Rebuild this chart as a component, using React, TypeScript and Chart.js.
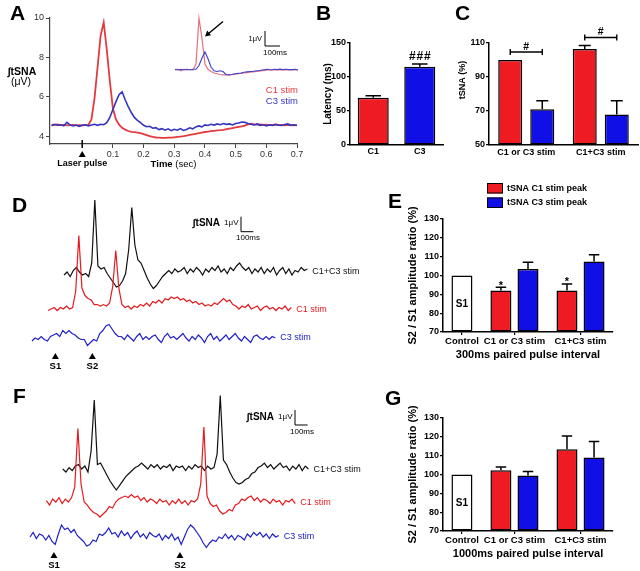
import React, { useEffect, useRef } from 'react';
import { Chart, registerables, CategoryScale } from 'chart.js';

const FONT = "'Liberation Sans', Arial, Helvetica, sans-serif";

/* ============================ DATA ============================ */

// Panel A: integrated tSNA (μV) around the laser pulse (t = 0 s), one value every 10 ms from -0.10 s
const aStartSec = -0.1;
const aStepSec = 0.01;
const aC1Stim = [
  4.58, 4.57, 4.59, 4.56, 4.57, 4.55, 4.56, 4.57, 4.55, 4.56,
  4.55, 4.56, 4.57, 4.85, 5.9, 7.5, 9.1, 9.78, 8.4, 6.8,
  5.4, 4.85, 4.58, 4.42, 4.33, 4.26, 4.22, 4.2, 4.18, 4.15,
  4.1, 4.05, 4.0, 3.96, 3.93, 3.92, 3.91, 3.91, 3.92, 3.92,
  3.94, 3.96, 3.98, 4.0, 4.03, 4.06, 4.09, 4.12, 4.15, 4.18,
  4.21, 4.23, 4.25, 4.27, 4.29, 4.3, 4.32, 4.35, 4.38, 4.41,
  4.44, 4.47, 4.5, 4.53, 4.6, 4.63, 4.6, 4.58, 4.6, 4.57,
  4.58, 4.56, 4.57, 4.58, 4.56, 4.57, 4.55, 4.57, 4.56, 4.55, 4.56,
];
const aC3Stim = [
  4.53, 4.6, 4.55, 4.58, 4.52, 4.7, 4.57, 4.52, 4.56, 4.5,
  4.55, 4.58, 4.52, 4.56, 4.6, 4.55, 4.6, 4.58, 4.68, 4.95,
  5.35, 5.75, 6.1, 6.25, 5.85, 5.5, 5.2, 4.95, 4.8, 4.68,
  4.55, 4.48, 4.5, 4.4, 4.43, 4.33, 4.38, 4.3, 4.37, 4.28,
  4.35, 4.3, 4.38, 4.29, 4.34, 4.42, 4.37, 4.47, 4.52, 4.47,
  4.57, 4.54, 4.6, 4.56, 4.62, 4.58, 4.64, 4.6, 4.62, 4.57,
  4.64, 4.67, 4.72, 4.7, 4.64, 4.6, 4.57, 4.62, 4.55, 4.58,
  4.52, 4.57, 4.54, 4.6, 4.56, 4.54, 4.59, 4.62, 4.55, 4.58, 4.54,
];
const aXTicks = [0.1, 0.2, 0.3, 0.4, 0.5, 0.6, 0.7];
const aYTicks = [4, 6, 8, 10];
// Panel A inset: single sweeps (μV re. baseline), one value every 20 ms
const aInsetStepMs = 20;
const aInsetC1 = [
  0.0, 0.05, -0.05, 0.05, 0.0, 0.05, 0.0, 0.4, 3.45, 2.1,
  0.4, 0.05, -0.1, -0.2, -0.25, -0.3, -0.33, -0.33, -0.32, -0.3,
  -0.28, -0.25, -0.22, -0.2, -0.18, -0.15, -0.12, -0.1, -0.08, -0.05,
  -0.03, 0.0, 0.0, 0.02, 0.0, 0.03, 0.0, 0.02, 0.0, 0.02, 0.0, 0.0,
];
const aInsetC3 = [
  0.05, 0.0, 0.05, 0.0, 0.05, 0.0, 0.05, 0.05, 0.3, 0.8,
  1.2, 0.75, 0.2, -0.05, -0.1, -0.05, -0.1, -0.3, -0.33, -0.3,
  -0.25, -0.22, -0.2, -0.15, -0.12, -0.1, -0.1, -0.05, -0.05, 0.0,
  0.02, 0.05, 0.0, 0.05, 0.02, 0.06, 0.03, 0.05, 0.02, 0.03, 0.05, 0.0,
];

// Panel B: latency (ms)
const bCategories = ['C1', 'C3'];
const bLatency = [69.5, 115];
const bLatencySem = [3, 4];
const bMarks = [null, '###'];
const bYTicks = [0, 50, 100, 150];

// Panel C: tSNA (%)
const cCategories = ['C1 or C3 stim', 'C1+C3 stim'];
const cC1Peak = [100, 106.5];
const cC1Sem = [0, 2];
const cC3Peak = [71, 68];
const cC3Sem = [5, 8];
const cMarks = ['#', '#'];
const cYTicks = [50, 70, 90, 110];

// Panels E and G: S2 / S1 amplitude ratio (%)
const ratioCategories = ['Control', 'C1 or C3 stim', 'C1+C3 stim'];
const ratioYTicks = [70, 80, 90, 100, 110, 120, 130];
const eControl = [100, null, null];
const eC1Peak = [null, 92, 92];
const eC1Sem = [null, 1.8, 3.5];
const eC1Marks = [null, '*', '*'];
const eC3Peak = [null, 103.5, 107.5];
const eC3Sem = [null, 3.5, 3.5];
const gControl = [100, null, null];
const gC1Peak = [null, 102.2, 113.4];
const gC1Sem = [null, 1.8, 7];
const gC3Peak = [null, 99.5, 109];
const gC3Sem = [null, 2.1, 8.5];

// Panels D and F: single traces (μV re. baseline), one value every 25 ms
const traceSampleMs = 25;
const stimLabels = ['S1', 'S2'];
const dStimMs = [190, 490];
const fStimMs = [190, 1190];
const dC1C3 = [
  -0.2, 0.0, -0.3, 0.1, 0.3, 0.0, -0.2, -0.1, -0.3, 0.6,
  4.8, 0.4, 0.2, 0.3, -0.1, -0.4, -0.7, -1.0, -0.9, -0.6,
  -0.1, 1.5, 4.3, 1.8, 0.8, 0.6, 0.1, -0.4, -0.8, -1.1,
  -0.9, -0.6, -0.3, -0.1, 0.1, -0.1, 0.2, 0.0, 0.1, 0.3,
  -0.1, 0.2, 0.0, 0.3, 0.1, -0.2, 0.2, 0.0, 0.3, 0.1,
  0.4, 0.0, 0.2, -0.1, 0.3, 0.1, 0.4, 0.6, 0.3, 0.1,
  0.3, -0.1, 0.2, 0.0, 0.3, -0.1, 0.2, 0.0, 0.3, -0.2,
  0.1, 0.3, -0.1, 0.2, -0.2, 0.1, 0.0, 0.3, 0.1, 0.2,
];
const dC1 = [
  -0.1, 0.0, 0.1, -0.1, 0.1, 0.0, 0.2, 0.0, 0.1, 1.2,
  4.9, 1.4, 0.9, 0.7, 0.6, 0.3, 0.3, 0.2, 0.3, 0.2,
  0.4, 1.5, 3.9, 1.4, 0.3, 0.1, 0.2, 0.0, 0.2, 0.1,
  0.3, 0.2, 0.4, 0.2, 0.5, 0.4, 0.6, 0.4, 0.7, 0.6,
  0.8, 0.7, 0.8, 0.6, 0.7, 0.5, 0.6, 0.4, 0.5, 0.3,
  0.4, 0.2, 0.3, 0.2, 0.4, 0.3, 0.5, 0.7, 0.5, 0.6,
  0.3, 0.2, 0.0, 0.2, 0.1, 0.3, 0.0, 0.1, 0.2, -0.1,
  0.1, 0.2, 0.0, 0.1, -0.1, 0.1, 0.0, 0.2, -0.1, 0.1,
];
const dC3 = [
  -0.2, 0.0, -0.1, 0.1, -0.1, -0.2, 0.1, 0.2, 0.3, 0.1,
  0.5, 0.3, 0.5, 0.3, 0.2, 0.0, -0.1, -0.1, -0.5, -0.3,
  -0.1, -0.2, 0.3, 0.5, 0.8, 0.9, 0.6, 0.3, 0.1, 0.1,
  -0.1, 0.2, 0.0, -0.2, 0.1, 0.3, -0.1, 0.1, -0.1, 0.1,
  0.2, -0.1, -0.3, 0.1, 0.3, 0.0, 0.1, -0.1, 0.1, 0.3,
  0.0, -0.2, 0.1, -0.1, 0.2, 0.0, -0.3, 0.1, 0.3, -0.1,
  0.1, -0.2, 0.0, 0.2, -0.1, 0.1, 0.3, 0.0, -0.2, 0.1,
  -0.1, -0.3, 0.1, 0.2, 0.0, -0.1, 0.1, -0.1, 0.1, 0.0,
];
const fC1C3 = [
  0.0, -0.2, 0.1, -0.1, 0.2, 0.3, 0.0, 0.2, -0.2, 1.2,
  4.6, 0.3, 0.4, 0.0, -0.4, -0.8, -1.1, -1.4, -1.1, -0.8,
  -0.5, -0.3, -0.1, 0.1, 0.2, 0.4, 0.2, 0.0, 0.3, 0.1,
  0.3, 0.0, 0.2, 0.1, 0.3, -0.1, 0.2, 0.1, 0.2, -0.1,
  0.2, 0.0, 0.3, 0.1, 0.2, -0.1, 0.2, 0.0, 0.1, 1.0,
  4.9, 0.6, 0.3, -0.2, -0.6, -0.9, -1.0, -0.9, -0.7, -0.6,
  -0.3, -0.2, 0.1, 0.2, 0.4, 0.1, 0.3, 0.0, 0.2, 0.4,
  0.1, 0.2, -0.1, 0.2, 0.0, 0.3, -0.1, 0.2, 0.0,
];
const fC1 = [
  0.1, -0.2, 0.2, 0.0, 0.3, -0.1, 0.2, 0.0, 0.3, 1.0,
  4.9, 1.2, 0.0, -0.2, -0.5, -0.7, -0.8, -1.0, -0.8, -0.6,
  -0.3, -0.4, 0.0, 0.2, 0.3, 0.4, 0.3, 0.5, 0.3, 0.4,
  0.1, 0.3, 0.0, 0.2, 0.1, -0.1, 0.2, 0.0, 0.1, -0.2,
  0.1, -0.1, 0.2, -0.1, 0.1, -0.2, 0.1, 0.0, 0.2, 1.2,
  5.0, 0.4, -0.1, -0.3, -0.2, -0.6, -0.8, -0.7, -0.5, -0.6,
  -0.2, -0.1, 0.2, 0.1, 0.3, 0.4, 0.1, 0.3, 0.0, 0.2,
  0.1, -0.1, 0.2, 0.0, 0.1, -0.2, 0.1, 0.0, 0.2, -0.1,
];
const fC3 = [
  0.0, 0.3, -0.1, 0.2, 0.1, -0.2, 0.1, -0.3, -0.5, 0.2,
  0.8, 0.5, 0.6, 0.3, 0.5, 0.1, -0.1, -0.3, -0.6, -0.5,
  -0.2, -0.3, 0.2, 0.1, 0.3, 0.6, 0.2, 0.3, 0.0, 0.4,
  0.1, 0.3, -0.1, 0.2, 0.4, 0.0, 0.2, -0.1, 0.3, 0.1,
  0.0, 0.2, -0.2, 0.1, -0.1, 0.2, -0.2, 0.0, -0.5, 0.0,
  0.5, 0.8, 0.6, 0.3, 0.0, -0.4, -0.7, -0.4, -0.2, -0.3,
  0.0, -0.1, 0.2, -0.1, 0.1, -0.2, 0.1, 0.0, -0.2, 0.2,
  0.0, 0.3, 0.1, 0.3, 0.0, 0.2, -0.1, 0.2, 0.0, 0.1,
];

/* ============================ STYLE ============================ */

const RED = '#ef1b22';
const BLUE = '#1010e6';
const A_RED = '#e23a3f';
const A_BLUE = '#3434c0';
const T_RED = '#e41b1f';
const T_BLUE = '#2020c8';
const T_BLACK = '#111111';
const AXIS_GREY = '#444444';

/* ===================== custom category scale ===================== */
// Category centres spaced by the number of bars in each category (Prism-style grouping).
class GroupedCategoryScale extends (CategoryScale as any) {
  static id = 'groupedCategory';
  static defaults = (CategoryScale as any).defaults;
  getPixelForValue(value: any) {
    let v = value;
    if (typeof v !== 'number') v = (this as any).parse(v);
    if (v === null || v === undefined || isNaN(v)) return NaN;
    const self: any = this;
    const labels: any[] = self.getLabels();
    const datasets: any[] = self.chart.data.datasets;
    const sizes = labels.map((_: any, i: number) =>
      Math.max(1, datasets.filter((d) => d.data[i] !== null && d.data[i] !== undefined).length));
    const edge = Number(self.options.edgeSlots ?? 0.2);
    const gap = Number(self.options.gapSlots ?? 0.44);
    const total = 2 * edge + sizes.reduce((a: number, b: number) => a + b, 0) + gap * (sizes.length - 1);
    const idx = Math.max(0, Math.min(sizes.length - 1, Math.round(v)));
    let pos = edge;
    for (let i = 0; i < idx; i++) pos += sizes[i] + gap;
    pos += sizes[idx] / 2;
    return self.getPixelForDecimal(pos / total);
  }
}

Chart.register(...registerables, GroupedCategoryScale as any);
Chart.defaults.font.family = FONT;
Chart.defaults.color = '#000';

/* ============================ PLUGINS ============================ */

const errorBarsPlugin = {
  id: 'errorBars',
  afterDatasetsDraw(chart: any) {
    const { ctx } = chart;
    const y = chart.scales.y;
    chart.data.datasets.forEach((ds: any, di: number) => {
      if (!ds.errorBars) return;
      const meta = chart.getDatasetMeta(di);
      meta.data.forEach((el: any, i: number) => {
        const v = ds.data[i];
        const e = ds.errorBars[i];
        if (v === null || v === undefined || !e) return;
        const top = y.getPixelForValue(v + e);
        const cap = el.width * 0.5;
        ctx.save();
        ctx.strokeStyle = '#000';
        ctx.lineWidth = 1.5;
        ctx.beginPath();
        ctx.moveTo(el.x, el.y);
        ctx.lineTo(el.x, top);
        ctx.moveTo(el.x - cap / 2, top);
        ctx.lineTo(el.x + cap / 2, top);
        ctx.stroke();
        ctx.restore();
      });
    });
  },
};

const aOverlay = {
  id: 'aOverlay',
  afterDraw(chart: any) {
    const { ctx, chartArea: ca } = chart;
    const x0 = chart.scales.x.getPixelForValue(0);
    ctx.save();
    ctx.fillStyle = '#000';
    ctx.strokeStyle = '#000';
    ctx.lineWidth = 1.5;
    ctx.beginPath();
    ctx.moveTo(x0, ca.bottom - 4);
    ctx.lineTo(x0, ca.bottom + 4);
    ctx.stroke();
    ctx.beginPath();
    ctx.moveTo(x0, ca.bottom + 7);
    ctx.lineTo(x0 + 3.5, ca.bottom + 13);
    ctx.lineTo(x0 - 3.5, ca.bottom + 13);
    ctx.closePath();
    ctx.fill();
    ctx.textAlign = 'center';
    ctx.textBaseline = 'middle';
    ctx.font = `bold 9px ${FONT}`;
    ctx.fillText('Laser pulse', x0, ca.bottom + 20);
    // axis title: "Time (sec)"
    const cx = (ca.left + ca.right) / 2;
    ctx.font = `bold 9.5px ${FONT}`;
    const w1 = ctx.measureText('Time').width;
    ctx.font = `9.5px ${FONT}`;
    const w2 = ctx.measureText(' (sec)').width;
    const sx = cx - (w1 + w2) / 2;
    ctx.textAlign = 'left';
    ctx.font = `bold 9.5px ${FONT}`;
    ctx.fillText('Time', sx, ca.bottom + 20);
    ctx.font = `9.5px ${FONT}`;
    ctx.fillText(' (sec)', sx + w1, ca.bottom + 20);
    // y title
    ctx.textAlign = 'center';
    ctx.font = `bold 10.5px ${FONT}`;
    ctx.fillText('\u222BtSNA', 22, 72.5);
    ctx.font = `10.5px ${FONT}`;
    ctx.fillText('(\u03BCV)', 21, 82);
    // legend
    ctx.textAlign = 'right';
    ctx.font = `9.5px ${FONT}`;
    chart.data.datasets.forEach((ds: any, i: number) => {
      ctx.fillStyle = ds.borderColor;
      ctx.fillText(ds.label, ca.right + 1, 90 + i * 11);
    });
    ctx.restore();
  },
};

const insetOverlay = {
  id: 'insetOverlay',
  afterDraw(chart: any) {
    const { ctx } = chart;
    const xs = chart.scales.x;
    const ys = chart.scales.y;
    const cx = 95;
    const cy = 38;
    const h = ys.getPixelForValue(0) - ys.getPixelForValue(1);
    const w = xs.getPixelForValue(100) - xs.getPixelForValue(0);
    ctx.save();
    ctx.strokeStyle = '#000';
    ctx.fillStyle = '#000';
    ctx.lineWidth = 1;
    ctx.beginPath();
    ctx.moveTo(cx, cy - h);
    ctx.lineTo(cx, cy);
    ctx.lineTo(cx + w, cy);
    ctx.stroke();
    ctx.textBaseline = 'middle';
    ctx.font = `7.5px ${FONT}`;
    ctx.textAlign = 'right';
    ctx.fillText('1\u03BCV', cx - 3, cy - 7);
    ctx.font = `8px ${FONT}`;
    ctx.textAlign = 'center';
    ctx.fillText('100ms', cx + w / 2 + 2.5, cy + 7);
    // arrow
    ctx.lineWidth = 1.4;
    ctx.beginPath();
    ctx.moveTo(53, 13.5);
    ctx.lineTo(38, 26);
    ctx.stroke();
    ctx.beginPath();
    ctx.moveTo(35, 28.5);
    ctx.lineTo(37.2, 22.6);
    ctx.lineTo(41, 27.2);
    ctx.closePath();
    ctx.fill();
    ctx.restore();
  },
};

function traceOverlay(stimMs: number[], corner: { x: number; y: number }) {
  return {
    id: 'traceOverlay',
    afterDatasetsDraw(chart: any) {
      const { ctx } = chart;
      const xs = chart.scales.x;
      const ys = chart.scales.y;
      ctx.save();
      ctx.textAlign = 'left';
      ctx.textBaseline = 'middle';
      ctx.font = `9px ${FONT}`;
      chart.data.datasets.forEach((ds: any, i: number) => {
        const pts = chart.getDatasetMeta(i).data;
        const last = pts[pts.length - 1];
        ctx.fillStyle = ds.borderColor;
        ctx.fillText(ds.label, last.x + 5, ys.getPixelForValue(ds.baseline));
      });
      const ref = chart.data.datasets.reduce((a: any, b: any) => (b.baseline < a.baseline ? b : a));
      const by = ys.getPixelForValue(ref.baseline);
      ctx.fillStyle = '#000';
      stimMs.forEach((t, k) => {
        const px = xs.getPixelForValue(t + ref.stagger);
        ctx.beginPath();
        ctx.moveTo(px, by + 15);
        ctx.lineTo(px + 3.5, by + 21);
        ctx.lineTo(px - 3.5, by + 21);
        ctx.closePath();
        ctx.fill();
        ctx.font = `bold 9.5px ${FONT}`;
        ctx.textAlign = 'center';
        ctx.fillText(stimLabels[k], px, by + 28);
      });
      const h = ys.getPixelForValue(0) - ys.getPixelForValue(1);
      const w = xs.getPixelForValue(100) - xs.getPixelForValue(0);
      ctx.strokeStyle = '#000';
      ctx.lineWidth = 1;
      ctx.beginPath();
      ctx.moveTo(corner.x, corner.y - h);
      ctx.lineTo(corner.x, corner.y);
      ctx.lineTo(corner.x + w, corner.y);
      ctx.stroke();
      ctx.textAlign = 'right';
      ctx.font = `bold 10px ${FONT}`;
      ctx.fillText('\u222BtSNA', corner.x - 21, corner.y - 8);
      ctx.font = `8px ${FONT}`;
      ctx.fillText('1\u03BCV', corner.x - 2.5, corner.y - 8.5);
      ctx.textAlign = 'center';
      ctx.fillText('100ms', corner.x + 7, corner.y + 6.5);
      ctx.restore();
    },
  };
}

const bAnnot = {
  id: 'bAnnot',
  afterDatasetsDraw(chart: any) {
    const { ctx } = chart;
    const y = chart.scales.y;
    const ds = chart.data.datasets[0];
    const meta = chart.getDatasetMeta(0);
    ctx.save();
    ctx.fillStyle = '#000';
    ctx.font = `bold 12px ${FONT}`;
    ctx.textAlign = 'center';
    ctx.textBaseline = 'alphabetic';
    bMarks.forEach((m, i) => {
      if (!m) return;
      const el = meta.data[i];
      const top = y.getPixelForValue(ds.data[i] + (ds.errorBars[i] || 0));
      const n = m.length;
      for (let k = 0; k < n; k++) ctx.fillText(m[k], el.x + (k - (n - 1) / 2) * 7.5, top - 4.5);
    });
    ctx.restore();
  },
};

const cAnnot = {
  id: 'cAnnot',
  afterDatasetsDraw(chart: any) {
    const { ctx, chartArea: ca } = chart;
    const y = chart.scales.y;
    const dss = chart.data.datasets;
    ctx.save();
    ctx.strokeStyle = '#000';
    ctx.fillStyle = '#000';
    ctx.lineWidth = 1.4;
    cMarks.forEach((m, i) => {
      if (!m) return;
      const xs = dss.map((_: any, di: number) => chart.getDatasetMeta(di).data[i].x);
      const tops = dss.map((d: any) => y.getPixelForValue(d.data[i] + (d.errorBars[i] || 0)));
      const by = Math.min(...tops) - 8;
      const x1 = Math.min(...xs);
      const x2 = Math.max(...xs);
      ctx.beginPath();
      ctx.moveTo(x1, by);
      ctx.lineTo(x2, by);
      ctx.moveTo(x1, by - 3);
      ctx.lineTo(x1, by + 3);
      ctx.moveTo(x2, by - 3);
      ctx.lineTo(x2, by + 3);
      ctx.stroke();
      ctx.font = `bold 10.5px ${FONT}`;
      ctx.textAlign = 'center';
      ctx.textBaseline = 'alphabetic';
      ctx.fillText(m, (x1 + x2) / 2, by - 2.5);
    });
    // y title (Prism places it slightly above the axis centre)
    ctx.translate(10.5, ca.top + 37);
    ctx.rotate(-Math.PI / 2);
    ctx.font = `bold 9px ${FONT}`;
    ctx.textAlign = 'center';
    ctx.textBaseline = 'middle';
    ctx.fillText('tSNA (%)', 0, 0);
    ctx.restore();
  },
};

function ratioAnnot(withLegend: boolean) {
  return {
    id: 'ratioAnnot',
    afterDatasetsDraw(chart: any) {
      const { ctx } = chart;
      const y = chart.scales.y;
      ctx.save();
      ctx.fillStyle = '#000';
      ctx.textAlign = 'center';
      chart.data.datasets.forEach((ds: any, di: number) => {
        const meta = chart.getDatasetMeta(di);
        ds.data.forEach((v: any, i: number) => {
          if (v === null || v === undefined) return;
          const el = meta.data[i];
          if (ds.insideLabel) {
            ctx.font = `bold 10px ${FONT}`;
            ctx.textBaseline = 'middle';
            ctx.fillText(ds.insideLabel, el.x, (el.y + y.getPixelForValue(y.min)) / 2);
          }
          if (ds.marks && ds.marks[i]) {
            const top = y.getPixelForValue(v + ((ds.errorBars && ds.errorBars[i]) || 0));
            ctx.font = `bold 11px ${FONT}`;
            ctx.textBaseline = 'alphabetic';
            ctx.fillText(ds.marks[i], el.x, top + 1.5);
          }
        });
      });
      if (withLegend) {
        const items = chart.data.datasets.filter((d: any) => !d.hideInLegend);
        items.forEach((ds: any, k: number) => {
          const yy = 13 + k * 14.5;
          ctx.fillStyle = ds.backgroundColor;
          ctx.fillRect(87, yy, 16, 10.5);
          ctx.strokeStyle = '#000';
          ctx.lineWidth = 1;
          ctx.strokeRect(87.5, yy + 0.5, 15, 9.5);
          ctx.fillStyle = '#000';
          ctx.font = `bold 9px ${FONT}`;
          ctx.textAlign = 'left';
          ctx.textBaseline = 'middle';
          ctx.fillText(ds.label, 107, yy + 5.5);
        });
      }
      ctx.restore();
    },
  };
}

/* ============================ CONFIGS ============================ */

const base = {
  responsive: false,
  animation: false,
  events: [] as string[],
};
const noPlugins = { legend: { display: false }, tooltip: { enabled: false } };

function prismY(o: { ticks: number[]; width: number; title?: string; titleSize?: number; titlePad?: number }) {
  return {
    type: 'linear',
    min: o.ticks[0],
    max: o.ticks[o.ticks.length - 1],
    afterBuildTicks: (s: any) => { s.ticks = o.ticks.map((v) => ({ value: v })); },
    afterFit: (s: any) => { s.width = o.width; },
    grid: { display: true, drawOnChartArea: false, drawTicks: true, tickLength: 3, color: '#000', lineWidth: 1.2 },
    border: { display: true, color: '#000', width: 1.5 },
    ticks: { color: '#000', font: { size: 9, weight: 'bold' }, padding: 1 },
    title: o.title
      ? { display: true, text: o.title, color: '#000', font: { size: o.titleSize, weight: 'bold' }, padding: { top: o.titlePad, bottom: 0 } }
      : { display: false },
  };
}

function configA() {
  const pts = (vals: number[]) => vals.map((v, i) => ({ x: +(aStartSec + i * aStepSec).toFixed(2), y: v }));
  return {
    type: 'line',
    data: {
      datasets: [
        { label: 'C1 stim', data: pts(aC1Stim), borderColor: A_RED, borderWidth: 1.8, pointRadius: 0, order: 1 },
        { label: 'C3 stim', data: pts(aC3Stim), borderColor: A_BLUE, borderWidth: 1.6, pointRadius: 0, order: 0 },
      ],
    },
    options: {
      ...base,
      layout: { padding: { left: 0, right: 8, top: 18, bottom: 0 } },
      plugins: noPlugins,
      scales: {
        x: {
          type: 'linear', min: -0.105, max: 0.7,
          afterBuildTicks: (s: any) => { s.ticks = aXTicks.map((v) => ({ value: v })); },
          afterFit: (s: any) => { s.height = 28; },
          grid: { display: true, drawOnChartArea: false, drawTicks: true, tickLength: 4, color: AXIS_GREY, lineWidth: 1 },
          border: { display: true, color: AXIS_GREY, width: 1.2 },
          ticks: { color: '#333', font: { size: 9 }, padding: 1, maxRotation: 0, autoSkip: false, callback: (v: any) => Number(v).toFixed(1) },
        },
        y: {
          type: 'linear', min: 3.6, max: 10,
          afterBuildTicks: (s: any) => { s.ticks = aYTicks.map((v) => ({ value: v })); },
          afterFit: (s: any) => { s.width = 50; },
          grid: { display: true, drawOnChartArea: false, drawTicks: true, tickLength: 4, color: AXIS_GREY, lineWidth: 1 },
          border: { display: true, color: AXIS_GREY, width: 1.2 },
          ticks: { color: '#333', font: { size: 9 }, padding: 2 },
        },
      },
    },
    plugins: [aOverlay],
  };
}

function configInset() {
  const pts = (vals: number[]) => vals.map((v, i) => ({ x: i * aInsetStepMs, y: v }));
  return {
    type: 'line',
    data: {
      datasets: [
        { label: 'C1 stim', data: pts(aInsetC1), borderColor: '#e8707e', borderWidth: 1.2, pointRadius: 0, order: 1 },
        { label: 'C3 stim', data: pts(aInsetC3), borderColor: '#4545cc', borderWidth: 1.2, pointRadius: 0, order: 0 },
      ],
    },
    options: {
      ...base,
      layout: { padding: 0 },
      plugins: noPlugins,
      scales: {
        x: { type: 'linear', display: false, min: -33.3, max: 846.7 },
        y: { type: 'linear', display: false, min: -0.933, max: 4.133 },
      },
    },
    plugins: [insetOverlay],
  };
}

function configB() {
  return {
    type: 'bar',
    data: {
      labels: bCategories,
      datasets: [{
        label: 'Latency (ms)', data: bLatency, errorBars: bLatencySem,
        backgroundColor: [RED, BLUE], borderColor: '#000', borderWidth: 1.5, borderSkipped: false,
        categoryPercentage: 0.8, barPercentage: 0.833, base: bYTicks[0],
      }],
    },
    options: {
      ...base,
      layout: { padding: { left: 0, right: 2, top: 13, bottom: 0 } },
      plugins: noPlugins,
      scales: {
        x: {
          type: 'category',
          afterFit: (s: any) => { s.height = 15; },
          grid: { display: true, drawOnChartArea: false, drawTicks: false, offset: false },
          border: { display: true, color: '#000', width: 1.5 },
          ticks: { color: '#000', font: { size: 9, weight: 'bold' }, padding: 1 },
        },
        y: prismY({ ticks: bYTicks, width: 32, title: 'Latency (ms)', titleSize: 10, titlePad: 4.6 }),
      },
    },
    plugins: [errorBarsPlugin, bAnnot],
  };
}

function configC() {
  return {
    type: 'bar',
    data: {
      labels: cCategories,
      datasets: [
        { label: 'C1 stim peak', data: cC1Peak, errorBars: cC1Sem, backgroundColor: RED },
        { label: 'C3 stim peak', data: cC3Peak, errorBars: cC3Sem, backgroundColor: BLUE },
      ].map((d) => ({ borderColor: '#000', borderWidth: 1.5, borderSkipped: false, base: cYTicks[0], ...d })),
    },
    options: {
      ...base,
      layout: { padding: { left: 0, right: 2, top: 23, bottom: 0 } },
      datasets: { bar: { categoryPercentage: 0.86, barPercentage: 0.75 } },
      plugins: noPlugins,
      scales: {
        x: {
          type: 'category',
          afterFit: (s: any) => { s.height = 15; },
          grid: { display: true, drawOnChartArea: false, drawTicks: false, offset: false },
          border: { display: true, color: '#000', width: 1.5 },
          ticks: { color: '#000', font: { size: 9, weight: 'bold' }, padding: 2 },
        },
        y: prismY({ ticks: cYTicks, width: 37 }),
      },
    },
    plugins: [errorBarsPlugin, cAnnot],
  };
}

function ratioConfig(p: {
  control: any[]; c1: any[]; c1Sem: any[]; c3: any[]; c3Sem: any[]; c1Marks?: any[];
  title: string; padTop: number; xHeight: number; titlePadBottom: number; legend: boolean;
}) {
  return {
    type: 'bar',
    data: {
      labels: ratioCategories,
      datasets: [
        { label: 'Control', data: p.control, backgroundColor: '#ffffff', insideLabel: 'S1', hideInLegend: true },
        { label: 'tSNA C1 stim peak', data: p.c1, errorBars: p.c1Sem, marks: p.c1Marks, backgroundColor: RED },
        { label: 'tSNA C3 stim peak', data: p.c3, errorBars: p.c3Sem, backgroundColor: BLUE },
      ].map((d) => ({ borderColor: '#000', borderWidth: 1.5, borderSkipped: false, base: ratioYTicks[0], ...d })),
    },
    options: {
      ...base,
      layout: { padding: { left: 0, right: 2, top: p.padTop, bottom: 0 } },
      datasets: { bar: { skipNull: true, categoryPercentage: 1.031, barPercentage: 0.776, maxBarThickness: 21 } },
      plugins: noPlugins,
      scales: {
        x: {
          type: 'groupedCategory', edgeSlots: 0.2, gapSlots: 0.44,
          afterFit: (s: any) => { s.height = p.xHeight; },
          grid: { display: true, drawOnChartArea: false, drawTicks: true, tickLength: 3, offset: false, color: '#000', lineWidth: 1.2 },
          border: { display: true, color: '#000', width: 1.5 },
          ticks: { color: '#000', font: { size: 9.5, weight: 'bold' }, padding: 0.3, maxRotation: 0, autoSkip: false },
          title: { display: true, text: p.title, color: '#000', font: { size: 11, weight: 'bold' }, padding: { top: 0, bottom: p.titlePadBottom } },
        },
        y: prismY({ ticks: ratioYTicks, width: 43, title: 'S2 / S1 amplitude ratio (%)', titleSize: 11, titlePad: 6.4 }),
      },
    },
    plugins: [errorBarsPlugin, ratioAnnot(p.legend)],
  };
}

const configE = () => ratioConfig({
  control: eControl, c1: eC1Peak, c1Sem: eC1Sem, c3: eC3Peak, c3Sem: eC3Sem, c1Marks: eC1Marks,
  title: '300ms paired pulse interval', padTop: 49, xHeight: 33, titlePadBottom: 3.4, legend: true,
});
const configG = () => ratioConfig({
  control: gControl, c1: gC1Peak, c1Sem: gC1Sem, c3: gC3Peak, c3Sem: gC3Sem,
  title: '1000ms paired pulse interval', padTop: 18, xHeight: 34, titlePadBottom: 4.1, legend: false,
});

function traceConfig(p: {
  traces: { label: string; values: number[]; color: string; baseline: number; stagger: number; order: number }[];
  xMin: number; xMax: number; yMin: number; yMax: number; stimMs: number[]; corner: { x: number; y: number };
}) {
  return {
    type: 'line',
    data: {
      datasets: p.traces.map((t) => ({
        label: t.label,
        data: t.values.map((v, i) => ({ x: t.stagger + i * traceSampleMs, y: v + t.baseline })),
        borderColor: t.color, borderWidth: 1.2, pointRadius: 0,
        baseline: t.baseline, stagger: t.stagger, order: t.order,
      })),
    },
    options: {
      ...base,
      layout: { padding: 0 },
      plugins: noPlugins,
      scales: {
        x: { type: 'linear', display: false, min: p.xMin, max: p.xMax },
        y: { type: 'linear', display: false, min: p.yMin, max: p.yMax },
      },
    },
    plugins: [traceOverlay(p.stimMs, p.corner)],
  };
}

const configD = () => traceConfig({
  traces: [
    { label: 'C1+C3 stim', values: dC1C3, color: T_BLACK, baseline: 4.4, stagger: 260, order: 1 },
    { label: 'C1 stim', values: dC1, color: T_RED, baseline: 1.93, stagger: 130, order: 0 },
    { label: 'C3 stim', values: dC3, color: T_BLUE, baseline: 0, stagger: 0, order: 2 },
  ],
  xMin: -259.7, xMax: 2987, yMin: -2.467, yMax: 10.2, stimMs: dStimMs, corner: { x: 241, y: 46.7 },
});
const configF = () => traceConfig({
  traces: [
    { label: 'C1+C3 stim', values: fC1C3, color: T_BLACK, baseline: 4.53, stagger: 260, order: 1 },
    { label: 'C1 stim', values: fC1, color: T_RED, baseline: 2.33, stagger: 130, order: 0 },
    { label: 'C3 stim', values: fC3, color: T_BLUE, baseline: 0, stagger: 0, order: 2 },
  ],
  xMin: -238.1, xMax: 2936.5, yMin: -2.267, yMax: 10.467, stimMs: fStimMs, corner: { x: 295, y: 45 },
});

/* ============================ COMPONENTS ============================ */

function ChartCanvas({ left, top, width, height, config }: any) {
  const ref = useRef<HTMLCanvasElement | null>(null);
  useEffect(() => {
    if (!ref.current) return;
    const chart = new Chart(ref.current, config());
    return () => chart.destroy();
  }, [config]);
  return (
    <canvas
      ref={ref}
      width={width}
      height={height}
      style={{ position: 'absolute', left, top, width, height }}
    />
  );
}

const panelLetters = [
  { t: 'A', x: 10, y: 5 },
  { t: 'B', x: 316, y: 5 },
  { t: 'C', x: 455, y: 5 },
  { t: 'D', x: 12, y: 197 },
  { t: 'E', x: 388, y: 193 },
  { t: 'F', x: 13, y: 388 },
  { t: 'G', x: 385, y: 390 },
];

export default function App() {
  return (
    <div style={{ position: 'fixed', left: 0, top: 0, width: 640, height: 571, background: '#fff', overflow: 'hidden' }}>
      <ChartCanvas left={0} top={0} width={305} height={172} config={configA} />
      <ChartCanvas left={170} top={8} width={132} height={76} config={configInset} />
      <ChartCanvas left={318} top={30} width={127} height={130} config={configB} />
      <ChartCanvas left={452} top={20} width={188} height={140} config={configC} />
      <ChartCanvas left={0} top={185} width={400} height={190} config={configD} />
      <ChartCanvas left={400} top={170} width={215} height={195} config={configE} />
      <ChartCanvas left={0} top={380} width={400} height={191} config={configF} />
      <ChartCanvas left={400} top={400} width={215} height={165} config={configG} />
      {panelLetters.map((l) => (
        <div
          key={l.t}
          style={{ position: 'absolute', left: l.x, top: l.y - 2.7, font: `bold 21px ${FONT}`, lineHeight: '21px', color: '#000' }}
        >
          {l.t}
        </div>
      ))}
    </div>
  );
}
